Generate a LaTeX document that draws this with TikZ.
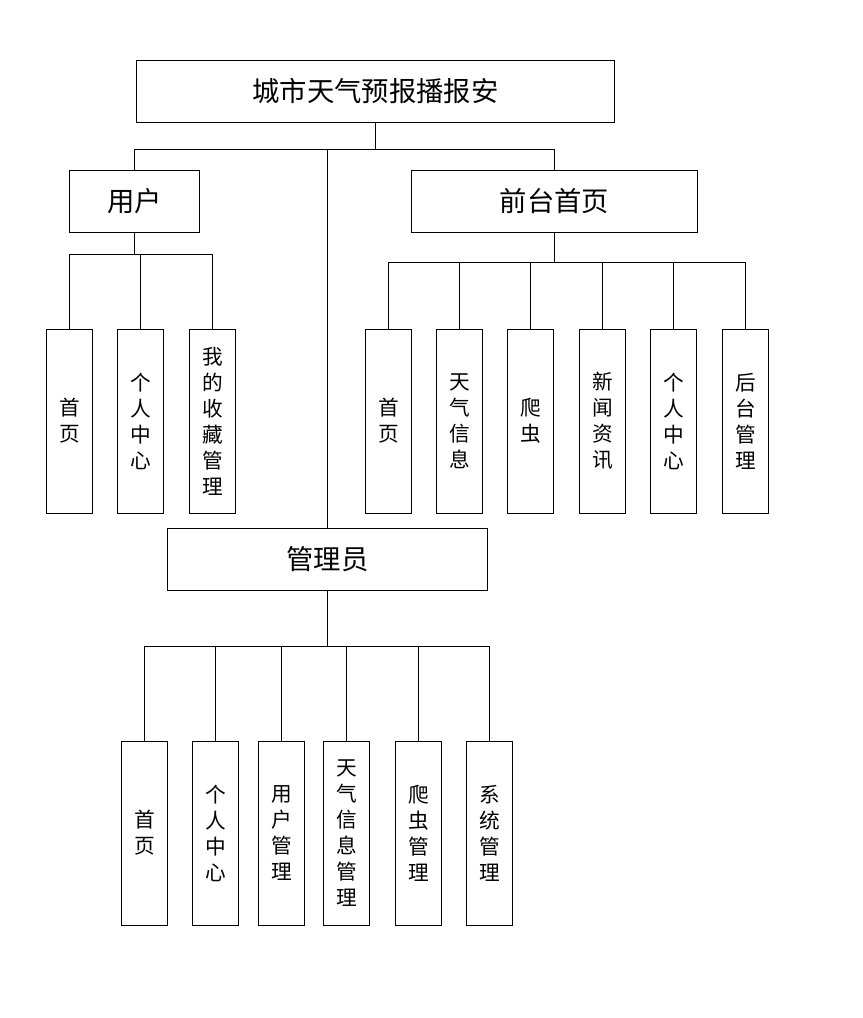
\documentclass[tikz,border=0pt]{standalone}
\usepackage{fontspec}
\newfontfamily\cjk{Noto Sans CJK SC}
\usepackage{tikz}

\begin{document}
\begin{tikzpicture}[x=0.75pt, y=-0.75pt, line width=0.75pt,
  every node/.style={draw, inner sep=0pt},
  head/.style={minimum height=47pt, font={\cjk\fontsize{20.5}{24}\selectfont}},
  leaf/.style={minimum width=35pt, minimum height=138pt, align=center, font={\cjk\fontsize{15.5}{19.5}\selectfont}}]
\useasboundingbox (0,0) rectangle (863,1018);
\node (top) [head, minimum width=359pt] at (375.5,91.5) {城市天气预报播报安};
\node (user) [head, minimum width=98pt] at (134.5,201.5) {用户};
\node (front) [head, minimum width=215pt] at (554.5,201.5) {前台首页};
\node (admin) [head, minimum width=240pt] at (327.5,559.5) {管理员};
% user
\node (u1) [leaf] at (69.5,421) {首\\页};
\node (u2) [leaf] at (140.5,421) {个\\人\\中\\心};
\node (u3) [leaf] at (212.5,421) {我\\的\\收\\藏\\管\\理};
% front page
\node (f1) [leaf] at (388.5,421) {首\\页};
\node (f2) [leaf] at (459.5,421) {天\\气\\信\\息};
\node (f3) [leaf] at (530.5,421) {爬\\虫};
\node (f4) [leaf] at (602.5,421) {新\\闻\\资\\讯};
\node (f5) [leaf] at (673.5,421) {个\\人\\中\\心};
\node (f6) [leaf] at (745.5,421) {后\\台\\管\\理};
% admin
\node (a1) [leaf] at (144.5,833) {首\\页};
\node (a2) [leaf] at (215.5,833) {个\\人\\中\\心};
\node (a3) [leaf] at (281.5,833) {用\\户\\管\\理};
\node (a4) [leaf] at (346.5,833) {天\\气\\信\\息\\管\\理};
\node (a5) [leaf] at (418.5,833) {爬\\虫\\管\\理};
\node (a6) [leaf] at (489.5,833) {系\\统\\管\\理};
% connectors
\draw (top.south) -- ++(0,26.5) coordinate (tbus);
\draw (tbus) -| (user.north);
\draw (tbus) -| (front.north);
\draw (tbus -| admin.north) -- (admin.north);
\draw (user.south) -- ++(0,21.5) coordinate (ubus);
\draw (ubus) -| (u1.north);
\draw (ubus) -| (u2.north);
\draw (ubus) -| (u3.north);
\draw (front.south) -- ++(0,29.5) coordinate (fbus);
\draw (fbus) -| (f1.north);
\draw (fbus) -| (f2.north);
\draw (fbus) -| (f3.north);
\draw (fbus) -| (f4.north);
\draw (fbus) -| (f5.north);
\draw (fbus) -| (f6.north);
\draw (admin.south) -- ++(0,55.5) coordinate (abus);
\draw (abus) -| (a1.north);
\draw (abus) -| (a2.north);
\draw (abus) -| (a3.north);
\draw (abus) -| (a4.north);
\draw (abus) -| (a5.north);
\draw (abus) -| (a6.north);
\end{tikzpicture}
\end{document}
